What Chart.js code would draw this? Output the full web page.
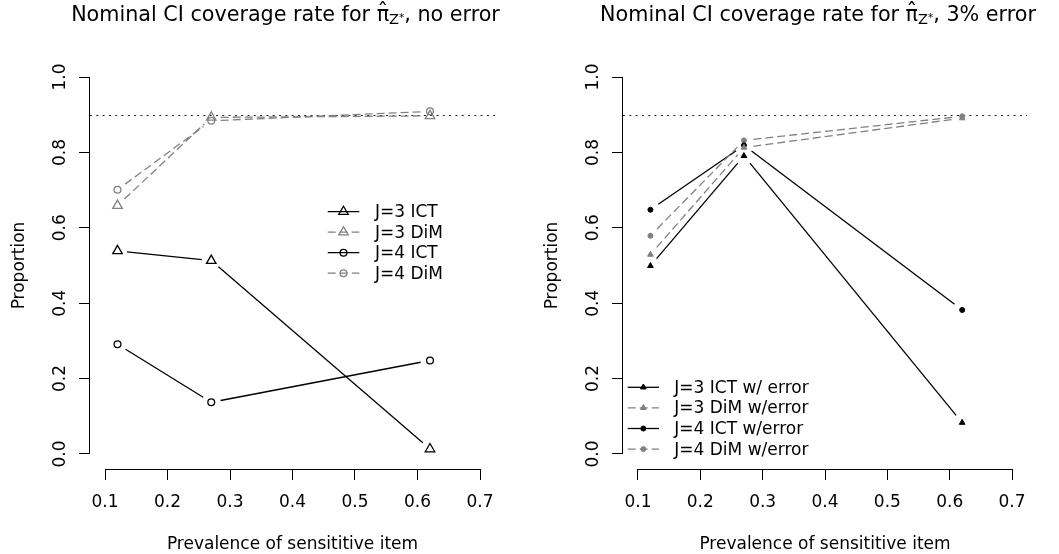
<!DOCTYPE html>
<html>
<head>
<meta charset="utf-8">
<title>Nominal CI coverage rate</title>
<script src="https://cdn.jsdelivr.net/npm/chart.js@4.4.1/dist/chart.umd.min.js"></script>
<style>
  html, body { margin: 0; padding: 0; background: #fff; }
  #wrap { position: relative; width: 1059px; height: 554px; }
  .panel { position: absolute; top: 0; height: 554px; }
</style>
</head>
<body>
<div id="wrap">
  <div class="panel" style="left:0;width:530px"><canvas id="noError" width="530" height="554"></canvas></div>
  <div class="panel" style="left:530px;width:529px"><canvas id="withError" width="529" height="554"></canvas></div>
</div>
<script>
// ---- data ----
const prevalence = [0.12, 0.27, 0.62];
const xTicks = [0.1, 0.2, 0.3, 0.4, 0.5, 0.6, 0.7];
const xTickLabels = ['0.1', '0.2', '0.3', '0.4', '0.5', '0.6', '0.7'];
const yTicks = [0, 0.2, 0.4, 0.6, 0.8, 1.0];
const yTickLabels = ['0.0', '0.2', '0.4', '0.6', '0.8', '1.0'];
const nominalRate = 0.9;

// left panel: no error
const j3IctNoErr = [0.539, 0.513, 0.013];
const j3DimNoErr = [0.659, 0.893, 0.897];
const j4IctNoErr = [0.291, 0.137, 0.248];
const j4DimNoErr = [0.701, 0.884, 0.909];
const noErrLabels = ['J=3 ICT', 'J=3 DiM', 'J=4 ICT', 'J=4 DiM'];

// right panel: 3% error
const j3IctErr = [0.499, 0.791, 0.083];
const j3DimErr = [0.529, 0.813, 0.891];
const j4IctErr = [0.648, 0.819, 0.382];
const j4DimErr = [0.579, 0.832, 0.896];
const errLabels = ['J=3 ICT w/ error', 'J=3 DiM w/error', 'J=4 ICT w/error', 'J=4 DiM w/error'];

const FONT = '"DejaVu Sans", Verdana, sans-serif';
const BLACK = '#000000';
const GREY = '#808080';
const GAP = 9.5; // gap around points, like R type = "b"

function makeSeries(label, values, color, dashed, style, radius, filled) {
  return {
    label: label,
    data: prevalence.map((x, i) => ({ x: x, y: values[i] })),
    showLine: false,
    borderColor: color,
    borderWidth: 1.3,
    borderDash: dashed ? [8, 4] : [],
    pointStyle: style,
    pointRadius: radius,
    pointHoverRadius: radius,
    pointBorderWidth: filled ? 1 : 1.3,
    pointBorderColor: color,
    pointBackgroundColor: filled ? color : 'rgba(0,0,0,0)',
    filledMarker: filled
  };
}

function drawMarker(ctx, style, x, y, r, color, filled, lw) {
  ctx.beginPath();
  if (style === 'triangle') {
    const h = r * Math.sqrt(3) / 2;
    ctx.moveTo(x, y - r);
    ctx.lineTo(x + h, y + r / 2);
    ctx.lineTo(x - h, y + r / 2);
    ctx.closePath();
  } else {
    ctx.arc(x, y, r, 0, Math.PI * 2);
  }
  ctx.setLineDash([]);
  ctx.lineWidth = lw;
  ctx.strokeStyle = color;
  if (filled) { ctx.fillStyle = color; ctx.fill(); }
  ctx.stroke();
}

function drawTitle(ctx, cx, suffix) {
  const base = 21;
  const parts = [
    { t: 'Nominal CI coverage rate for ', f: '20.7px ' + FONT, dy: 0 },
    { t: '\u03C0', f: '20.7px ' + FONT, dy: 0, hat: true },
    { t: 'Z', f: '14.5px ' + FONT, dy: 3 },
    { t: '*', f: '10.5px ' + FONT, dy: 0 },
    { t: suffix, f: '20.7px ' + FONT, dy: 0 }
  ];
  let total = 0;
  parts.forEach(p => { ctx.font = p.f; p.w = ctx.measureText(p.t).width; total += p.w; });
  let x = cx - total / 2;
  ctx.fillStyle = BLACK;
  ctx.textBaseline = 'alphabetic';
  parts.forEach(p => {
    ctx.font = p.f;
    ctx.textAlign = 'left';
    ctx.fillText(p.t, x, base + p.dy);
    if (p.hat) {
      ctx.font = '22px ' + FONT;
      ctx.textAlign = 'center';
      ctx.fillText('\u02C6', x + p.w / 2, base - 3.5);
    }
    x += p.w;
  });
}

// draws the R-like decorations: axes, labels, reference line, gapped lines, legend
const rStyle = {
  id: 'rStyle',
  beforeDatasetsDraw(chart, args, opts) {
    const { ctx, chartArea: a, scales: { x, y } } = chart;
    ctx.save();
    // nominal coverage reference line
    const yr = Math.round(y.getPixelForValue(nominalRate)) + 0.5;
    ctx.strokeStyle = '#222';
    ctx.lineWidth = 1.2;
    ctx.setLineDash([2, 4.3]);
    ctx.beginPath();
    ctx.moveTo(a.left, yr);
    ctx.lineTo(a.right, yr);
    ctx.stroke();

    // lines between points with gaps
    chart.data.datasets.forEach((ds, i) => {
      const pts = chart.getDatasetMeta(i).data;
      ctx.strokeStyle = ds.borderColor;
      ctx.lineWidth = ds.borderWidth;
      ctx.setLineDash(ds.borderDash);
      for (let k = 1; k < pts.length; k++) {
        const p = pts[k - 1], q = pts[k];
        const dx = q.x - p.x, dy = q.y - p.y;
        const d = Math.hypot(dx, dy);
        if (d <= 2 * GAP) continue;
        const ux = dx / d, uy = dy / d;
        ctx.beginPath();
        ctx.moveTo(p.x + ux * GAP, p.y + uy * GAP);
        ctx.lineTo(q.x - ux * GAP, q.y - uy * GAP);
        ctx.stroke();
      }
    });
    ctx.restore();
  },
  afterDraw(chart, args, opts) {
    const { ctx, chartArea: a, scales: { x, y } } = chart;
    ctx.save();
    ctx.strokeStyle = BLACK;
    ctx.lineWidth = 1;
    ctx.setLineDash([]);

    // axis lines only from first to last tick
    const xb = Math.round(a.bottom) + 0.5;
    ctx.beginPath();
    ctx.moveTo(x.getPixelForValue(xTicks[0]), xb);
    ctx.lineTo(x.getPixelForValue(xTicks[xTicks.length - 1]), xb);
    ctx.stroke();
    const yl = Math.round(a.left) - 0.5;
    ctx.beginPath();
    ctx.moveTo(yl, y.getPixelForValue(yTicks[0]));
    ctx.lineTo(yl, y.getPixelForValue(yTicks[yTicks.length - 1]));
    ctx.stroke();

    ctx.fillStyle = BLACK;
    ctx.font = '17px ' + FONT;
    // x tick labels
    ctx.textAlign = 'center';
    ctx.textBaseline = 'alphabetic';
    xTicks.forEach((v, i) => ctx.fillText(xTickLabels[i], x.getPixelForValue(v), 507));
    // y tick labels, rotated like R
    yTicks.forEach((v, i) => {
      ctx.save();
      ctx.translate(a.left - 25, y.getPixelForValue(v));
      ctx.rotate(-Math.PI / 2);
      ctx.fillText(yTickLabels[i], 0, 0);
      ctx.restore();
    });
    // axis titles
    const cx = (a.left + a.right) / 2;
    ctx.fillText('Prevalence of sensititive item', cx, 549);
    ctx.save();
    ctx.translate(opts.yTitleX, (a.top + a.bottom) / 2);
    ctx.rotate(-Math.PI / 2);
    ctx.fillText('Proportion', 0, 0);
    ctx.restore();

    // main title
    drawTitle(ctx, cx - 7, opts.suffix);

    // legend
    const lg = opts.legend;
    chart.data.datasets.forEach((ds, i) => {
      const ry = lg.y + i * lg.rowH;
      ctx.strokeStyle = ds.borderColor;
      ctx.lineWidth = ds.borderWidth;
      ctx.setLineDash(ds.borderDash);
      ctx.beginPath();
      ctx.moveTo(lg.x1, ry);
      ctx.lineTo(lg.x2, ry);
      ctx.stroke();
      drawMarker(ctx, ds.pointStyle, (lg.x1 + lg.x2) / 2, ry, ds.pointRadius,
        ds.borderColor, ds.filledMarker, ds.pointBorderWidth);
      ctx.fillStyle = BLACK;
      ctx.font = '17px ' + FONT;
      ctx.textAlign = 'left';
      ctx.textBaseline = 'middle';
      ctx.fillText(ds.label, lg.textX, ry + 1);
    });
    ctx.restore();
  }
};

function buildChart(id, datasets, yAxisWidth, rightPad, pluginOpts) {
  return new Chart(document.getElementById(id), {
    type: 'scatter',
    data: { datasets: datasets },
    plugins: [rStyle],
    options: {
      responsive: false,
      animation: false,
      devicePixelRatio: 1,
      events: [],
      layout: { autoPadding: false, padding: { top: 62, right: rightPad, left: 0, bottom: 0 } },
      plugins: {
        legend: { display: false },
        title: { display: false },
        tooltip: { enabled: false },
        rStyle: pluginOpts
      },
      scales: {
        x: {
          type: 'linear',
          min: 0.076,
          max: 0.724,
          afterBuildTicks: s => { s.ticks = xTicks.map(v => ({ value: v })); },
          afterFit: s => { s.height = 85; },
          border: { display: false },
          grid: { drawOnChartArea: false, drawTicks: true, tickLength: 11, color: BLACK, lineWidth: 1 },
          ticks: { display: false }
        },
        y: {
          type: 'linear',
          min: -0.04,
          max: 1.04,
          afterBuildTicks: s => { s.ticks = yTicks.map(v => ({ value: v })); },
          afterFit: s => { s.width = yAxisWidth; },
          border: { display: false },
          grid: { drawOnChartArea: false, drawTicks: true, tickLength: 11, color: BLACK, lineWidth: 1 },
          ticks: { display: false }
        }
      }
    }
  });
}

buildChart('noError', [
  makeSeries(noErrLabels[0], j3IctNoErr, BLACK, false, 'triangle', 5.5, false),
  makeSeries(noErrLabels[1], j3DimNoErr, GREY, true, 'triangle', 5.5, false),
  makeSeries(noErrLabels[2], j4IctNoErr, BLACK, false, 'circle', 3.4, false),
  makeSeries(noErrLabels[3], j4DimNoErr, GREY, true, 'circle', 3.4, false)
], 90, 35, {
  suffix: ', no error',
  yTitleX: 24,
  legend: { x1: 327.7, x2: 359.3, textX: 375, y: 211.7, rowH: 20.5 }
});

buildChart('withError', [
  makeSeries(errLabels[0], j3IctErr, BLACK, false, 'triangle', 3.3, true),
  makeSeries(errLabels[1], j3DimErr, GREY, true, 'triangle', 3.3, true),
  makeSeries(errLabels[2], j4IctErr, BLACK, false, 'circle', 2.5, true),
  makeSeries(errLabels[3], j4DimErr, GREY, true, 'circle', 2.5, true)
], 93, 32, {
  suffix: ', 3% error',
  yTitleX: 27,
  legend: { x1: 97.7, x2: 129, textX: 144.3, y: 387.3, rowH: 20.6 }
});
</script>
</body>
</html>
